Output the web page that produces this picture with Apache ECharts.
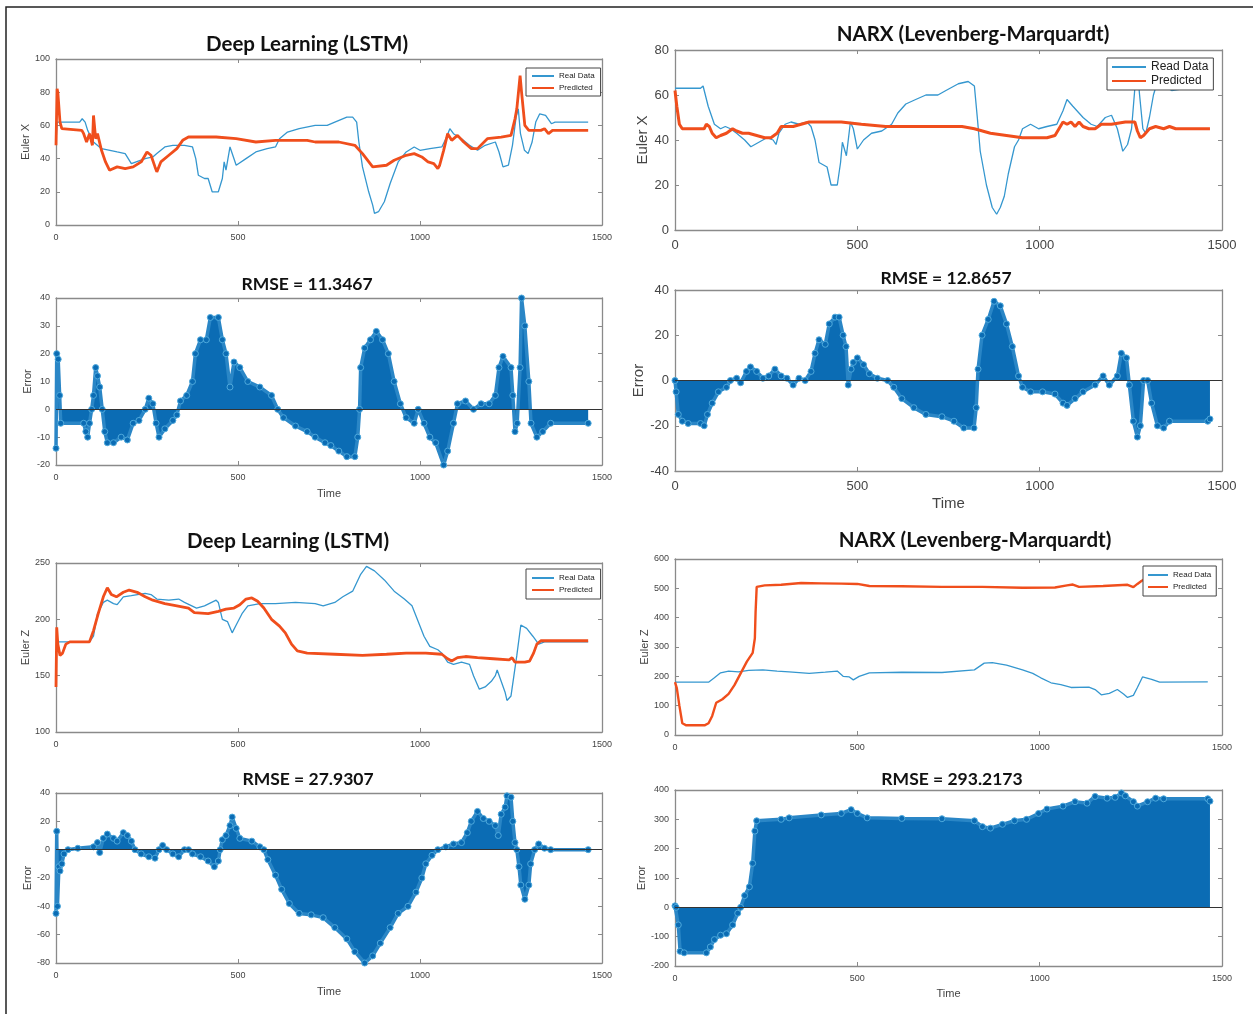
<!DOCTYPE html>
<html>
<head>
<meta charset="utf-8">
<script src="https://cdn.jsdelivr.net/npm/echarts@6/dist/echarts.min.js"></script>
<style>
  html, body { margin: 0; padding: 0; background: #fff; }
  #chart { width: 1253px; height: 1014px; }
</style>
</head>
<body>
<div id="chart"></div>
<script>
// ---- data: [time, value] ----
var lstmXReal = [[0,50],[3,62],[65,62],[72,64],[80,62],[87,57],[103,50],[125,46],[168,44],[190,43],[207,37],[245,40],[266,41],[277,43],[299,47],[321,48],[353,48],[375,47],[384,40],[391,30],[408,28],[418,28],[429,20],[446,20],[457,28],[462,38],[467,33],[478,47],[495,36],[522,40],[549,44],[580,46],[603,47],[614,52],[636,56],[668,58],[712,60],[745,60],[766,62],[799,65],[815,65],[826,62],[832,50],[842,35],[859,20],[870,12],[875,7],[886,8],[902,14],[918,25],[940,38],[962,44],[984,47],[1000,45],[1027,46],[1060,47],[1071,52],[1082,58],[1092,55],[1114,52],[1136,48],[1158,45],[1179,48],[1207,50],[1217,44],[1228,35],[1243,36],[1254,48],[1264,65],[1270,70],[1276,55],[1287,45],[1297,43],[1308,50],[1318,62],[1329,67],[1345,66],[1361,61],[1371,62],[1462,62]];
var lstmXPred = [[0,48],[3,82],[5,80],[11,62],[16,58],[71,57],[76,55],[84,50],[92,55],[100,48],[103,66],[109,52],[114,55],[125,45],[136,38],[147,33],[168,35],[190,34],[212,35],[234,38],[250,44],[261,42],[272,35],[277,32],[288,38],[310,42],[332,46],[348,51],[364,53],[440,53],[495,52],[549,50],[603,51],[690,51],[712,50],[777,50],[821,48],[842,43],[870,35],[908,36],[929,39],[962,42],[984,43],[1005,41],[1022,38],[1038,37],[1049,34],[1054,36],[1065,45],[1076,55],[1087,51],[1103,54],[1120,50],[1141,46],[1158,46],[1185,52],[1223,53],[1250,54],[1261,64],[1266,70],[1275,90],[1279,80],[1288,60],[1299,57],[1332,57],[1342,58],[1353,55],[1364,57],[1462,57]];

var narxXReal = [[0,63],[70,63],[77,64],[91,55],[108,47],[125,45],[138,46],[152,45],[169,43],[191,40],[208,37],[230,39],[252,41],[269,40],[277,38],[285,43],[302,47],[318,48],[340,47],[362,48],[373,46],[384,40],[395,30],[417,28],[428,20],[445,20],[454,30],[459,39],[470,33],[481,48],[489,45],[500,36],[517,40],[539,43],[567,44],[594,47],[611,52],[633,56],[660,58],[688,60],[721,60],[743,62],[777,65],[804,66],[821,64],[829,50],[837,35],[854,20],[870,10],[882,7],[892,10],[903,15],[914,25],[931,37],[942,40],[953,45],[975,47],[997,45],[1020,46],[1047,47],[1064,53],[1075,58],[1091,55],[1119,50],[1141,47],[1158,46],[1180,50],[1197,51],[1213,45],[1228,35],[1241,38],[1252,45],[1261,63],[1266,75],[1274,60],[1283,45],[1291,43],[1301,50],[1312,60],[1323,66],[1334,67],[1351,63],[1362,62],[1400,63],[1467,63]];
var narxXPred = [[0,62],[5,55],[12,47],[20,45],[80,45],[86,47],[94,46],[102,43],[113,41],[125,42],[141,43],[158,45],[169,44],[185,43],[202,43],[224,42],[246,41],[263,41],[280,43],[291,46],[324,46],[346,47],[368,48],[456,48],[511,47],[578,46],[677,46],[787,46],[821,45],[865,43],[909,42],[953,41],[1020,41],[1042,42],[1053,45],[1064,48],[1075,47],[1086,48],[1097,46],[1108,48],[1119,46],[1135,45],[1152,45],[1169,47],[1197,47],[1235,48],[1261,48],[1268,44],[1276,41],[1285,42],[1301,45],[1318,46],[1340,45],[1356,46],[1373,45],[1467,45]];

var lstmXErr = [[0,-14],[2,20],[6,18],[10,5],[13,-5],[76,-5],[82,-8],[87,-10],[92,-5],[98,0],[103,5],[109,15],[114,12],[120,8],[127,0],[134,-8],[141,-12],[158,-12],[179,-10],[196,-11],[212,-5],[228,-4],[245,0],[255,4],[266,2],[275,-5],[283,-10],[299,-7],[321,-4],[332,-2],[342,3],[359,5],[375,10],[383,20],[397,25],[413,25],[424,33],[446,33],[457,25],[467,20],[478,8],[489,17],[505,15],[527,10],[560,8],[592,5],[609,0],[625,-3],[658,-6],[690,-8],[712,-10],[739,-12],[755,-13],[777,-15],[799,-17],[821,-17],[829,-10],[834,0],[837,15],[848,22],[864,25],[880,28],[897,25],[913,20],[929,10],[946,2],[962,-3],[984,-5],[995,0],[1011,-5],[1027,-10],[1043,-12],[1065,-20],[1076,-15],[1092,-5],[1103,2],[1125,3],[1147,0],[1168,2],[1190,2],[1207,5],[1217,15],[1228,19],[1250,15],[1255,5],[1261,-8],[1267,-5],[1275,15],[1279,40],[1288,30],[1299,10],[1305,-5],[1321,-10],[1337,-8],[1359,-5],[1462,-5]];
var narxXErr = [[0,0],[3,-5],[9,-15],[20,-18],[36,-19],[70,-19],[80,-20],[89,-15],[102,-10],[119,-5],[141,-3],[152,0],[169,1],[180,-1],[196,4],[207,6],[224,4],[241,1],[257,2],[274,5],[291,2],[307,1],[324,-2],[340,1],[357,0],[373,4],[384,12],[395,18],[412,16],[423,25],[439,28],[450,28],[461,20],[469,15],[475,-2],[483,5],[489,8],[500,10],[517,7],[533,3],[555,1],[583,0],[600,-3],[622,-8],[655,-12],[688,-15],[732,-16],[765,-18],[792,-21],[820,-21],[826,-12],[831,5],[842,20],[859,27],[875,35],[892,33],[909,25],[925,15],[942,2],[953,-3],[975,-5],[1008,-5],[1042,-6],[1064,-10],[1075,-11],[1097,-8],[1119,-5],[1152,-2],[1174,2],[1191,-2],[1213,2],[1224,12],[1238,10],[1246,-2],[1257,-18],[1268,-25],[1276,-20],[1285,0],[1296,0],[1307,-10],[1323,-20],[1340,-21],[1356,-18],[1461,-18],[1467,-17]];

var lstmZReal = [[0,180],[92,180],[103,185],[114,205],[130,215],[141,217],[158,214],[168,213],[185,220],[207,221],[245,223],[261,222],[277,218],[310,217],[337,218],[353,215],[386,210],[408,212],[440,217],[446,215],[457,200],[471,198],[484,188],[495,195],[511,205],[527,212],[560,214],[603,214],[658,215],[712,214],[734,212],[766,215],[788,220],[815,225],[837,240],[853,247],[875,243],[902,235],[929,225],[957,218],[978,212],[995,198],[1011,185],[1027,176],[1049,173],[1060,170],[1076,162],[1092,160],[1114,162],[1136,160],[1147,150],[1163,138],[1179,140],[1196,145],[1207,150],[1212,155],[1223,145],[1234,135],[1239,128],[1250,132],[1258,150],[1266,168],[1277,195],[1293,192],[1310,185],[1326,178],[1342,180],[1462,180]];
var lstmZPred = [[0,140],[2,193],[5,178],[11,168],[18,170],[27,178],[38,180],[92,180],[103,190],[116,205],[130,220],[141,228],[152,222],[166,220],[185,224],[201,226],[223,224],[245,220],[266,217],[299,214],[332,212],[364,210],[380,206],[418,205],[446,207],[467,209],[489,210],[505,213],[522,218],[538,219],[554,216],[571,210],[592,200],[614,194],[630,188],[647,178],[663,172],[690,170],[766,169],[842,168],[908,169],[962,170],[1016,170],[1060,169],[1076,165],[1087,163],[1103,166],[1125,167],[1158,166],[1201,165],[1245,164],[1253,166],[1261,162],[1288,162],[1301,163],[1312,170],[1321,178],[1332,181],[1462,181]];

var narxZReal = [[0,180],[92,180],[108,195],[125,212],[147,218],[174,215],[202,220],[241,222],[280,218],[313,215],[368,210],[412,214],[445,218],[461,200],[478,198],[489,188],[505,200],[533,212],[622,214],[732,213],[821,222],[848,245],[870,247],[909,238],[953,222],[981,210],[1003,195],[1031,178],[1058,172],[1086,162],[1135,163],[1152,155],[1169,137],[1191,142],[1213,155],[1230,140],[1241,128],[1257,135],[1268,162],[1282,198],[1307,190],[1329,180],[1461,181]];
var narxZPred = [[0,180],[5,160],[12,100],[20,40],[31,33],[81,33],[92,40],[102,65],[113,110],[130,122],[147,140],[163,170],[180,210],[197,250],[213,280],[219,330],[221,420],[224,505],[246,510],[291,512],[346,518],[401,517],[456,516],[500,515],[533,508],[622,507],[732,505],[843,505],[953,502],[1042,503],[1075,510],[1091,513],[1108,505],[1174,508],[1241,512],[1257,504],[1268,515],[1279,525],[1300,540],[1340,550],[1467,550]];

var lstmZErr = [[0,-45],[2,13],[4,-40],[8,-12],[11,-15],[16,-10],[22,-3],[33,0],[60,1],[103,2],[114,5],[120,-2],[130,8],[141,11],[158,8],[168,6],[185,12],[196,10],[207,6],[217,0],[234,-3],[255,-5],[272,-6],[283,0],[293,3],[304,0],[321,-3],[337,-5],[353,0],[364,0],[375,-3],[397,-5],[418,-8],[435,-12],[446,-8],[451,0],[457,7],[467,10],[478,17],[484,23],[495,15],[505,8],[538,6],[560,2],[571,0],[582,-7],[603,-18],[620,-28],[641,-38],[668,-45],[701,-46],[734,-48],[766,-55],[799,-63],[821,-72],[848,-80],[870,-75],[891,-66],[918,-55],[940,-45],[967,-40],[989,-30],[1005,-20],[1016,-10],[1033,-4],[1049,0],[1071,2],[1092,4],[1114,5],[1130,12],[1141,20],[1158,27],[1174,22],[1190,20],[1207,17],[1215,10],[1223,25],[1234,30],[1239,38],[1250,37],[1255,20],[1261,5],[1266,0],[1272,-12],[1277,-25],[1288,-35],[1299,-25],[1304,-10],[1315,0],[1326,4],[1342,1],[1359,0],[1462,0]];
var narxZErr = [[0,5],[3,0],[9,-60],[14,-150],[25,-155],[86,-155],[97,-135],[108,-110],[125,-95],[141,-90],[158,-60],[172,-20],[180,0],[191,40],[204,70],[213,150],[219,260],[224,295],[291,300],[313,305],[401,315],[456,320],[483,333],[500,320],[527,305],[622,303],[732,302],[821,295],[843,275],[865,270],[898,283],[931,295],[964,300],[997,320],[1020,335],[1064,345],[1097,360],[1130,355],[1152,378],[1185,372],[1207,375],[1224,390],[1235,380],[1257,360],[1268,345],[1296,360],[1318,372],[1340,370],[1461,370],[1467,362]];

var xTicks = { min: 0, max: 1500, interval: 500 };

// ---- styles ----
var blue = '#3597cf';
var orange = '#f04e1c';
var stemBlue = '#0b6cb4';
var stemEdge = '#4ea9dc';
var axisGray = '#8a8a8a';
var tickFont = 'Liberation Sans Narrow, Liberation Sans, Arial, sans-serif';
var titleFont = 'Lato, Open Sans, sans-serif';

var panels = [
  { grid: { left: 56, top: 59, width: 546, height: 166 }, y: [0, 100, 20], fs: 9, yName: 'Euler X', yGap: 20 },
  { grid: { left: 675, top: 50, width: 547, height: 180 }, y: [0, 80, 20], fs: 13, yName: 'Euler X', yGap: 24 },
  { grid: { left: 56, top: 298, width: 546, height: 167 }, y: [-20, 40, 10], fs: 9, yName: 'Error', yGap: 20, xName: 'Time', xGap: 23 },
  { grid: { left: 675, top: 290, width: 547, height: 181 }, y: [-40, 40, 20], fs: 13, yName: 'Error', yGap: 28, xName: 'Time', xGap: 25 },
  { grid: { left: 56, top: 563, width: 546, height: 169 }, y: [100, 250, 50], fs: 9, yName: 'Euler Z', yGap: 20 },
  { grid: { left: 675, top: 559, width: 547, height: 176 }, y: [0, 600, 100], fs: 9, yName: 'Euler Z', yGap: 21 },
  { grid: { left: 56, top: 793, width: 546, height: 170 }, y: [-80, 40, 20], fs: 9, yName: 'Error', yGap: 20, xName: 'Time', xGap: 23 },
  { grid: { left: 675, top: 790, width: 547, height: 176 }, y: [-200, 400, 100], fs: 9, yName: 'Error', yGap: 24, xName: 'Time', xGap: 22 }
];

var grids = [], xAxes = [], yAxes = [];
function plain(v) { return String(v); }
panels.forEach(function(p, i) {
  grids.push(p.grid);
  var line = { show: true, onZero: false, lineStyle: { color: axisGray, width: 1.3 } };
  var tick = { show: true, inside: true, length: 4, lineStyle: { color: axisGray } };
  var lbl = { color: '#444', fontSize: p.fs, fontFamily: tickFont, formatter: plain };
  xAxes.push({
    type: 'value', gridIndex: i, min: xTicks.min, max: xTicks.max, interval: xTicks.interval,
    axisLine: line, axisTick: tick, splitLine: { show: false },
    axisLabel: Object.assign({ margin: p.fs > 10 ? 9 : 8 }, lbl),
    name: p.xName || '', nameLocation: 'middle', nameGap: p.xGap || 20,
    nameTextStyle: { color: '#444', fontSize: p.fs + 2, fontFamily: tickFont }
  });
  xAxes.push({
    type: 'value', gridIndex: i, position: 'top', min: xTicks.min, max: xTicks.max, interval: xTicks.interval,
    axisLine: line, axisTick: tick, axisLabel: { show: false }, splitLine: { show: false }
  });
  yAxes.push({
    type: 'value', gridIndex: i, min: p.y[0], max: p.y[1], interval: p.y[2],
    axisLine: line, axisTick: tick, splitLine: { show: false },
    axisLabel: Object.assign({ margin: 6 }, lbl),
    name: p.yName, nameLocation: 'middle', nameGap: p.yGap,
    nameTextStyle: { color: '#444', fontSize: p.fs + 2, fontFamily: tickFont }
  });
  yAxes.push({
    type: 'value', gridIndex: i, position: 'right', min: p.y[0], max: p.y[1], interval: p.y[2],
    axisLine: line, axisTick: tick, axisLabel: { show: false }, splitLine: { show: false }
  });
});

function lineSeries(name, data, i, color, width) {
  return {
    name: name, type: 'line', data: data, xAxisIndex: 2 * i, yAxisIndex: 2 * i,
    showSymbol: false, lineStyle: { color: color, width: width }, itemStyle: { color: color }
  };
}

function stemSeries(name, data, i) {
  return {
    name: name, type: 'line', data: data, xAxisIndex: 2 * i, yAxisIndex: 2 * i,
    symbol: 'circle', symbolSize: 6, showSymbol: true,
    lineStyle: { color: '#2a86c6', width: 3.5 },
    itemStyle: { color: stemBlue, borderColor: stemEdge, borderWidth: 1 },
    areaStyle: { color: stemBlue, opacity: 1, origin: 0 },
    markLine: {
      silent: true, symbol: 'none', label: { show: false },
      lineStyle: { color: '#333', width: 1.2, type: 'solid' },
      data: [{ yAxis: 0 }]
    }
  };
}

var series = [
  lineSeries('Real Data', lstmXReal, 0, blue, 1.3),
  lineSeries('Predicted', lstmXPred, 0, orange, 2.8),
  lineSeries('Read Data', narxXReal, 1, blue, 1.3),
  lineSeries('Predicted', narxXPred, 1, orange, 3),
  stemSeries('err1', lstmXErr, 2),
  stemSeries('err2', narxXErr, 3),
  lineSeries('Real Data', lstmZReal, 4, blue, 1.3),
  lineSeries('Predicted', lstmZPred, 4, orange, 2.8),
  lineSeries('Read Data', narxZReal, 5, blue, 1.3),
  lineSeries('Predicted', narxZPred, 5, orange, 2.4),
  stemSeries('err3', lstmZErr, 6),
  stemSeries('err4', narxZErr, 7)
];

function legendAt(left, top, names, fs, w, pad, gap) {
  return {
    left: left, top: top, orient: 'vertical', data: names, selectedMode: false,
    icon: 'rect', itemWidth: w, itemHeight: 2, itemGap: gap,
    backgroundColor: '#fff', borderColor: '#444', borderWidth: 1, borderRadius: 0,
    padding: pad, textStyle: { fontSize: fs, color: '#222', fontFamily: tickFont }
  };
}

var legends = [
  legendAt(526, 68, ['Real Data', 'Predicted'], 8, 22, [4, 6, 4, 6], 4),
  legendAt(1107, 58, ['Read Data', 'Predicted'], 12, 34, [3, 5, 3, 5], 2),
  legendAt(526, 569, ['Real Data', 'Predicted'], 8, 22, [5, 6, 5, 6], 4),
  legendAt(1143, 566, ['Read Data', 'Predicted'], 8, 20, [5, 5, 5, 5], 4)
];

var titles = [
  ['Deep Learning (LSTM)', 307, 44, 20.5],
  ['NARX (Levenberg-Marquardt)', 973, 34, 20.5],
  ['RMSE = 11.3467', 307, 284, 17.5],
  ['RMSE = 12.8657', 946, 278, 17.5],
  ['Deep Learning (LSTM)', 288, 541, 20.5],
  ['NARX (Levenberg-Marquardt)', 975, 540, 20.5],
  ['RMSE = 27.9307', 308, 779, 17.5],
  ['RMSE = 293.2173', 952, 779, 17.5]
];

var graphics = [{
  type: 'rect', shape: { x: 6, y: 7, width: 1270, height: 1030 },
  style: { fill: 'none', stroke: '#222', lineWidth: 1.5 }, silent: true
}];
titles.forEach(function(t) {
  graphics.push({
    type: 'text', x: t[1], y: t[2], silent: true,
    style: { text: t[0], align: 'center', verticalAlign: 'middle', fill: '#111',
      fontSize: t[3], fontWeight: 'bold', fontFamily: titleFont }
  });
});

var chart = echarts.init(document.getElementById('chart'), null, { renderer: 'canvas' });
chart.setOption({
  animation: false,
  backgroundColor: '#fff',
  grid: grids,
  xAxis: xAxes,
  yAxis: yAxes,
  legend: legends,
  series: series,
  graphic: graphics
});
window.addEventListener('resize', function() { chart.resize(); });
</script>
</body>
</html>
